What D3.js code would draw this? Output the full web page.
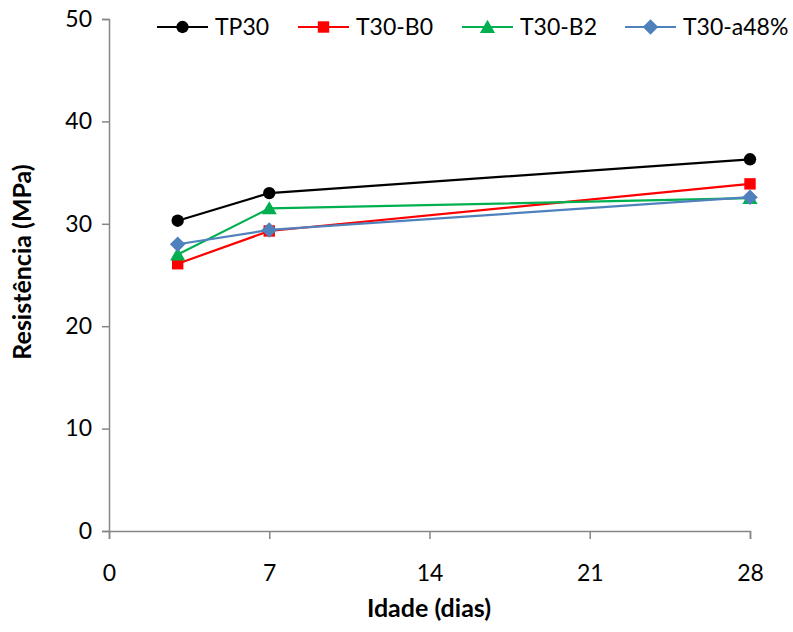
<!DOCTYPE html>
<html><head><meta charset="utf-8">
<script src="https://cdn.jsdelivr.net/npm/d3@7"></script>
<style>body{margin:0;background:#fff;}svg{display:block;font-family:Lato,"Open Sans",sans-serif;}</style>
</head><body>
<svg id="c" width="793" height="632"></svg>
<script>
const days = [3, 7, 28];
const seriesNames = ["TP30", "T30-B0", "T30-B2", "T30-a48%"];
const tp30 = [30.3, 33.0, 36.3];
const t30b0 = [26.1, 29.3, 33.9];
const t30b2 = [27.0, 31.5, 32.5];
const t30a48 = [28.0, 29.4, 32.6];
const colors = ["#000000", "#ff0000", "#00b050", "#4f81bd"];
const symbolsList = ["circle", "square", "triangle", "diamond"];
const xTicks = [0, 7, 14, 21, 28];
const yTicks = [0, 10, 20, 30, 40, 50];

const svg = d3.select("#c");
const x = d3.scaleLinear().domain([0, 28]).range([109, 750]);
const y = d3.scaleLinear().domain([0, 50]).range([531, 19]);
const axisColor = "#868686";

const yAxis = svg.append("g").attr("transform", "translate(109,0)")
  .call(d3.axisLeft(y).tickValues(yTicks).tickSize(7).tickPadding(10).tickFormat(d3.format("d")));
const xAxis = svg.append("g").attr("transform", "translate(0,531)")
  .call(d3.axisBottom(x).tickValues(xTicks).tickSize(8).tickPadding(26).tickFormat(d3.format("d")));
[yAxis, xAxis].forEach(a => {
  a.select(".domain").attr("stroke", axisColor).attr("stroke-width", 1.5);
  a.selectAll(".tick line").attr("stroke", axisColor).attr("stroke-width", 1.5);
  a.selectAll(".tick text").attr("fill", "#000").style("font-size", "23px").style("font-family", "Lato, sans-serif");
});

const data = [tp30, t30b0, t30b2, t30a48];
function sym(kind, size) {
  const t = {circle: d3.symbolCircle, square: d3.symbolSquare, triangle: d3.symbolTriangle, diamond: d3.symbolSquare}[kind];
  return d3.symbol().type(t).size(size)();
}
const sizes = {circle: 120, square: 130, triangle: 100, diamond: 121};
function markerTransform(kind, cx, cy) {
  if (kind === "diamond") return `translate(${cx},${cy}) rotate(45)`;
  if (kind === "triangle") return `translate(${cx},${cy + 1.5})`;
  return `translate(${cx},${cy})`;
}
const line = d3.line().x((d, i) => x(days[i])).y(d => y(d));
data.forEach((vals, k) => {
  svg.append("path").attr("d", line(vals)).attr("fill", "none")
    .attr("stroke", colors[k]).attr("stroke-width", 2.2);
});
data.forEach((vals, k) => {
  vals.forEach((v, i) => {
    svg.append("path").attr("d", sym(symbolsList[k], sizes[symbolsList[k]]))
      .attr("transform", markerTransform(symbolsList[k], x(days[i]), y(v)))
      .attr("fill", colors[k]);
  });
});

// legend
const legX = [157, 298, 462, 625];
const legY = 27;
seriesNames.forEach((name, k) => {
  const g = svg.append("g").attr("transform", `translate(${legX[k]},${legY})`);
  g.append("line").attr("x1", 0).attr("x2", 51).attr("y1", 0).attr("y2", 0)
    .attr("stroke", colors[k]).attr("stroke-width", 2.2);
  g.append("path").attr("d", sym(symbolsList[k], sizes[symbolsList[k]]))
    .attr("transform", markerTransform(symbolsList[k], 25.5, 0)).attr("fill", colors[k]);
  g.append("text").attr("x", 58).attr("y", 0).attr("dy", "0.36em")
    .style("font-size", "23px").text(name);
});

svg.append("text").attr("transform", "translate(31,262) rotate(-90)")
  .attr("text-anchor", "middle").style("font-size", "25px").style("font-weight", "bold")
  .text("Resistência (MPa)");
svg.append("text").attr("x", 429).attr("y", 617)
  .attr("text-anchor", "middle").style("font-size", "25px").style("font-weight", "bold")
  .text("Idade (dias)");
</script>
</body></html>
